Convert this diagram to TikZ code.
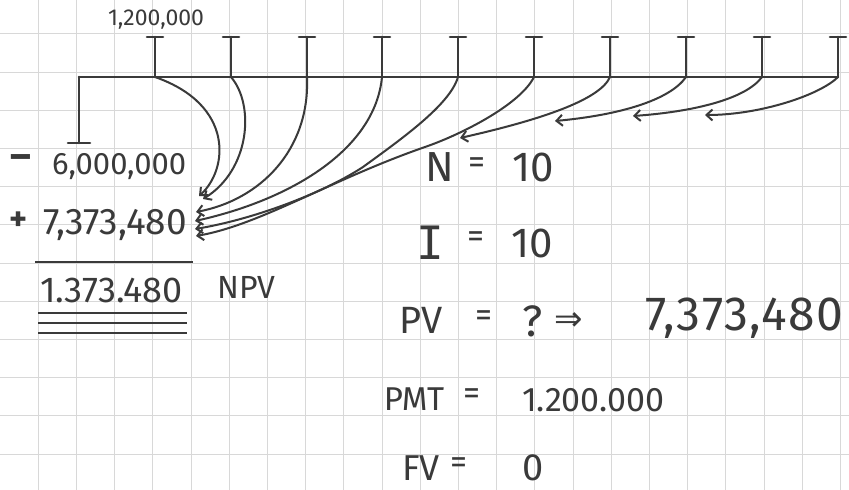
\documentclass[tikz,border=0pt]{standalone}
\usepackage{fontspec}
\setmainfont{Fira Sans}
\newfontfamily\monofont{DejaVu Sans Mono}
\newfontfamily\symfont{DejaVu Sans}
\newfontfamily\widefont{Fira Sans}[LetterSpace=3]
\usetikzlibrary{arrows.meta}
\definecolor{ink}{HTML}{3A3A3A}
\definecolor{gridc}{HTML}{D8D8D8}
\begin{document}
\begin{tikzpicture}[x=1pt,y=-1pt,
  axis/.style={draw=ink, line width=2.6pt, line cap=round},
  arr/.style={draw=ink, line width=2pt, line cap=round, -{Straight Barb[length=6pt,width=11pt,line width=2pt]}},
  rule/.style={draw=ink, line width=1.8pt},
  txt/.style={text=ink, inner sep=0pt},
  fs/.style={font=\fontsize{#1}{#1}\selectfont}]
\useasboundingbox (0,0) rectangle (849,490);
\fill[white] (0,0) rectangle (849,490);
% grid paper
\foreach \k in {1,...,22} \draw[gridc, line width=0.8pt] (38.2*\k,0) -- (38.2*\k,490);
\foreach \k in {0,...,11} \draw[gridc, line width=0.8pt] (0,33.8+38.2*\k) -- (849,33.8+38.2*\k);
% timeline
\coordinate (t0) at (79,77);
\foreach \i/\x in {1/155,2/231,3/307,4/382,5/458,6/534,7/610,8/686,9/762,10/838} {
  \coordinate (t\i) at (\x,77);
  \coordinate (c\i) at (\x,37);
}
\coordinate (d0) at (79,143);
\draw[axis] (t0) -- (t10);
\foreach \i in {1,...,10} \draw[axis] (t\i) -- (c\i) ([xshift=-8pt]c\i) -- ([xshift=8pt]c\i);
\draw[axis] (t0) -- (d0) ([xshift=-11pt]d0) -- ([xshift=11pt]d0);
\node[txt, fs=23] (lab) at (156,20) {1,200,000};
% targets
\coordinate (p1) at (199,196);
\coordinate (p2) at (203,199);
\coordinate (p3) at (196,212);
\coordinate (p4) at (195,221);
\coordinate (p5) at (195,229);
\coordinate (p6) at (196,236);
\coordinate (h7) at (460,138);
\coordinate (h8) at (555,121);
\coordinate (h9) at (633,116);
\coordinate (h10) at (705,115);
\draw[arr] (t1) .. controls (235,105) and (228,170) .. (p1);
\draw[arr] (t2) .. controls (255,105) and (250,170) .. (p2);
\draw[arr] (t3) .. controls (310,150) and (260,200) .. (p3);
\draw[arr] (t4) .. controls (375,150) and (290,200) .. (p4);
\draw[arr] (t5) .. controls (450,105) and (400,140) .. (363,167) .. controls (320,195) and (250,220) .. (p5);
\draw[arr] (t6) .. controls (520,105) and (460,135) .. (425,147) .. controls (330,180) and (260,225) .. (p6);
\draw[arr] (t7) .. controls (600,100) and (540,120) .. (h7);
\draw[arr] (t8) .. controls (670,100) and (620,115) .. (h8);
\draw[arr] (t9) .. controls (745,100) and (690,112) .. (h9);
\draw[arr] (t10) .. controls (820,95) and (760,115) .. (h10);
% left computation
\node[txt, font=\bfseries\fontsize{40}{40}\selectfont] (minus) at (21,162) {–};
\node[txt, fs=31, anchor=west] (sixm) at (52,167) {6,000,000};
\node[txt, font=\bfseries\fontsize{34}{34}\selectfont] (plus) at (19,221) {+};
\node[txt, fs=37, anchor=west] (pv) at (43,225) {7,373,480};
\coordinate (u1) at (35,262); \coordinate (u2) at (193,262);
\draw[rule] (u1) -- (u2);
\node[txt, fs=36, anchor=west] (npvv) at (40,290) {1.373.480};
\node[txt, fs=32, anchor=west] (npv) at (217,287) {NPV};
\foreach \y in {313,323,333} \draw[rule] (38,\y) -- (187,\y);
% right calculator inputs
\node[txt, fs=42] (nl) at (440,167) {N};
\node[txt, fs=34] (ne) at (477,166) {=};
\node[txt, fs=42] (nv) at (533,167) {10};
\node[txt, font=\monofont\fontsize{46}{46}\selectfont] (il) at (430,243) {I};
\node[txt, fs=34] (ie) at (476,240) {=};
\node[txt, fs=42] (iv) at (532,243) {10};
\node[txt, fs=38] (pvl) at (421,320) {PV};
\node[txt, fs=34] (pve) at (484,319) {=};
\node[txt, fs=44] (pvq) at (533,321) {?};
\node[txt, font=\symfont\fontsize{34}{34}\selectfont] (pva) at (569,322) {⇒};
\node[txt, font=\widefont\fontsize{48}{48}\selectfont, anchor=west] (pvv) at (645,318) {7,373,480};
\node[txt, fs=33] (pmtl) at (414,399) {PMT};
\node[txt, fs=34] (pmte) at (472,397) {=};
\node[txt, fs=34, anchor=west] (pmtv) at (522,400) {1.200.000};
\node[txt, fs=36] (fvl) at (421,468) {FV};
\node[txt, fs=34] (fve) at (459,466) {=};
\node[txt, fs=38] (fvv) at (533,468) {0};
\end{tikzpicture}
\end{document}
